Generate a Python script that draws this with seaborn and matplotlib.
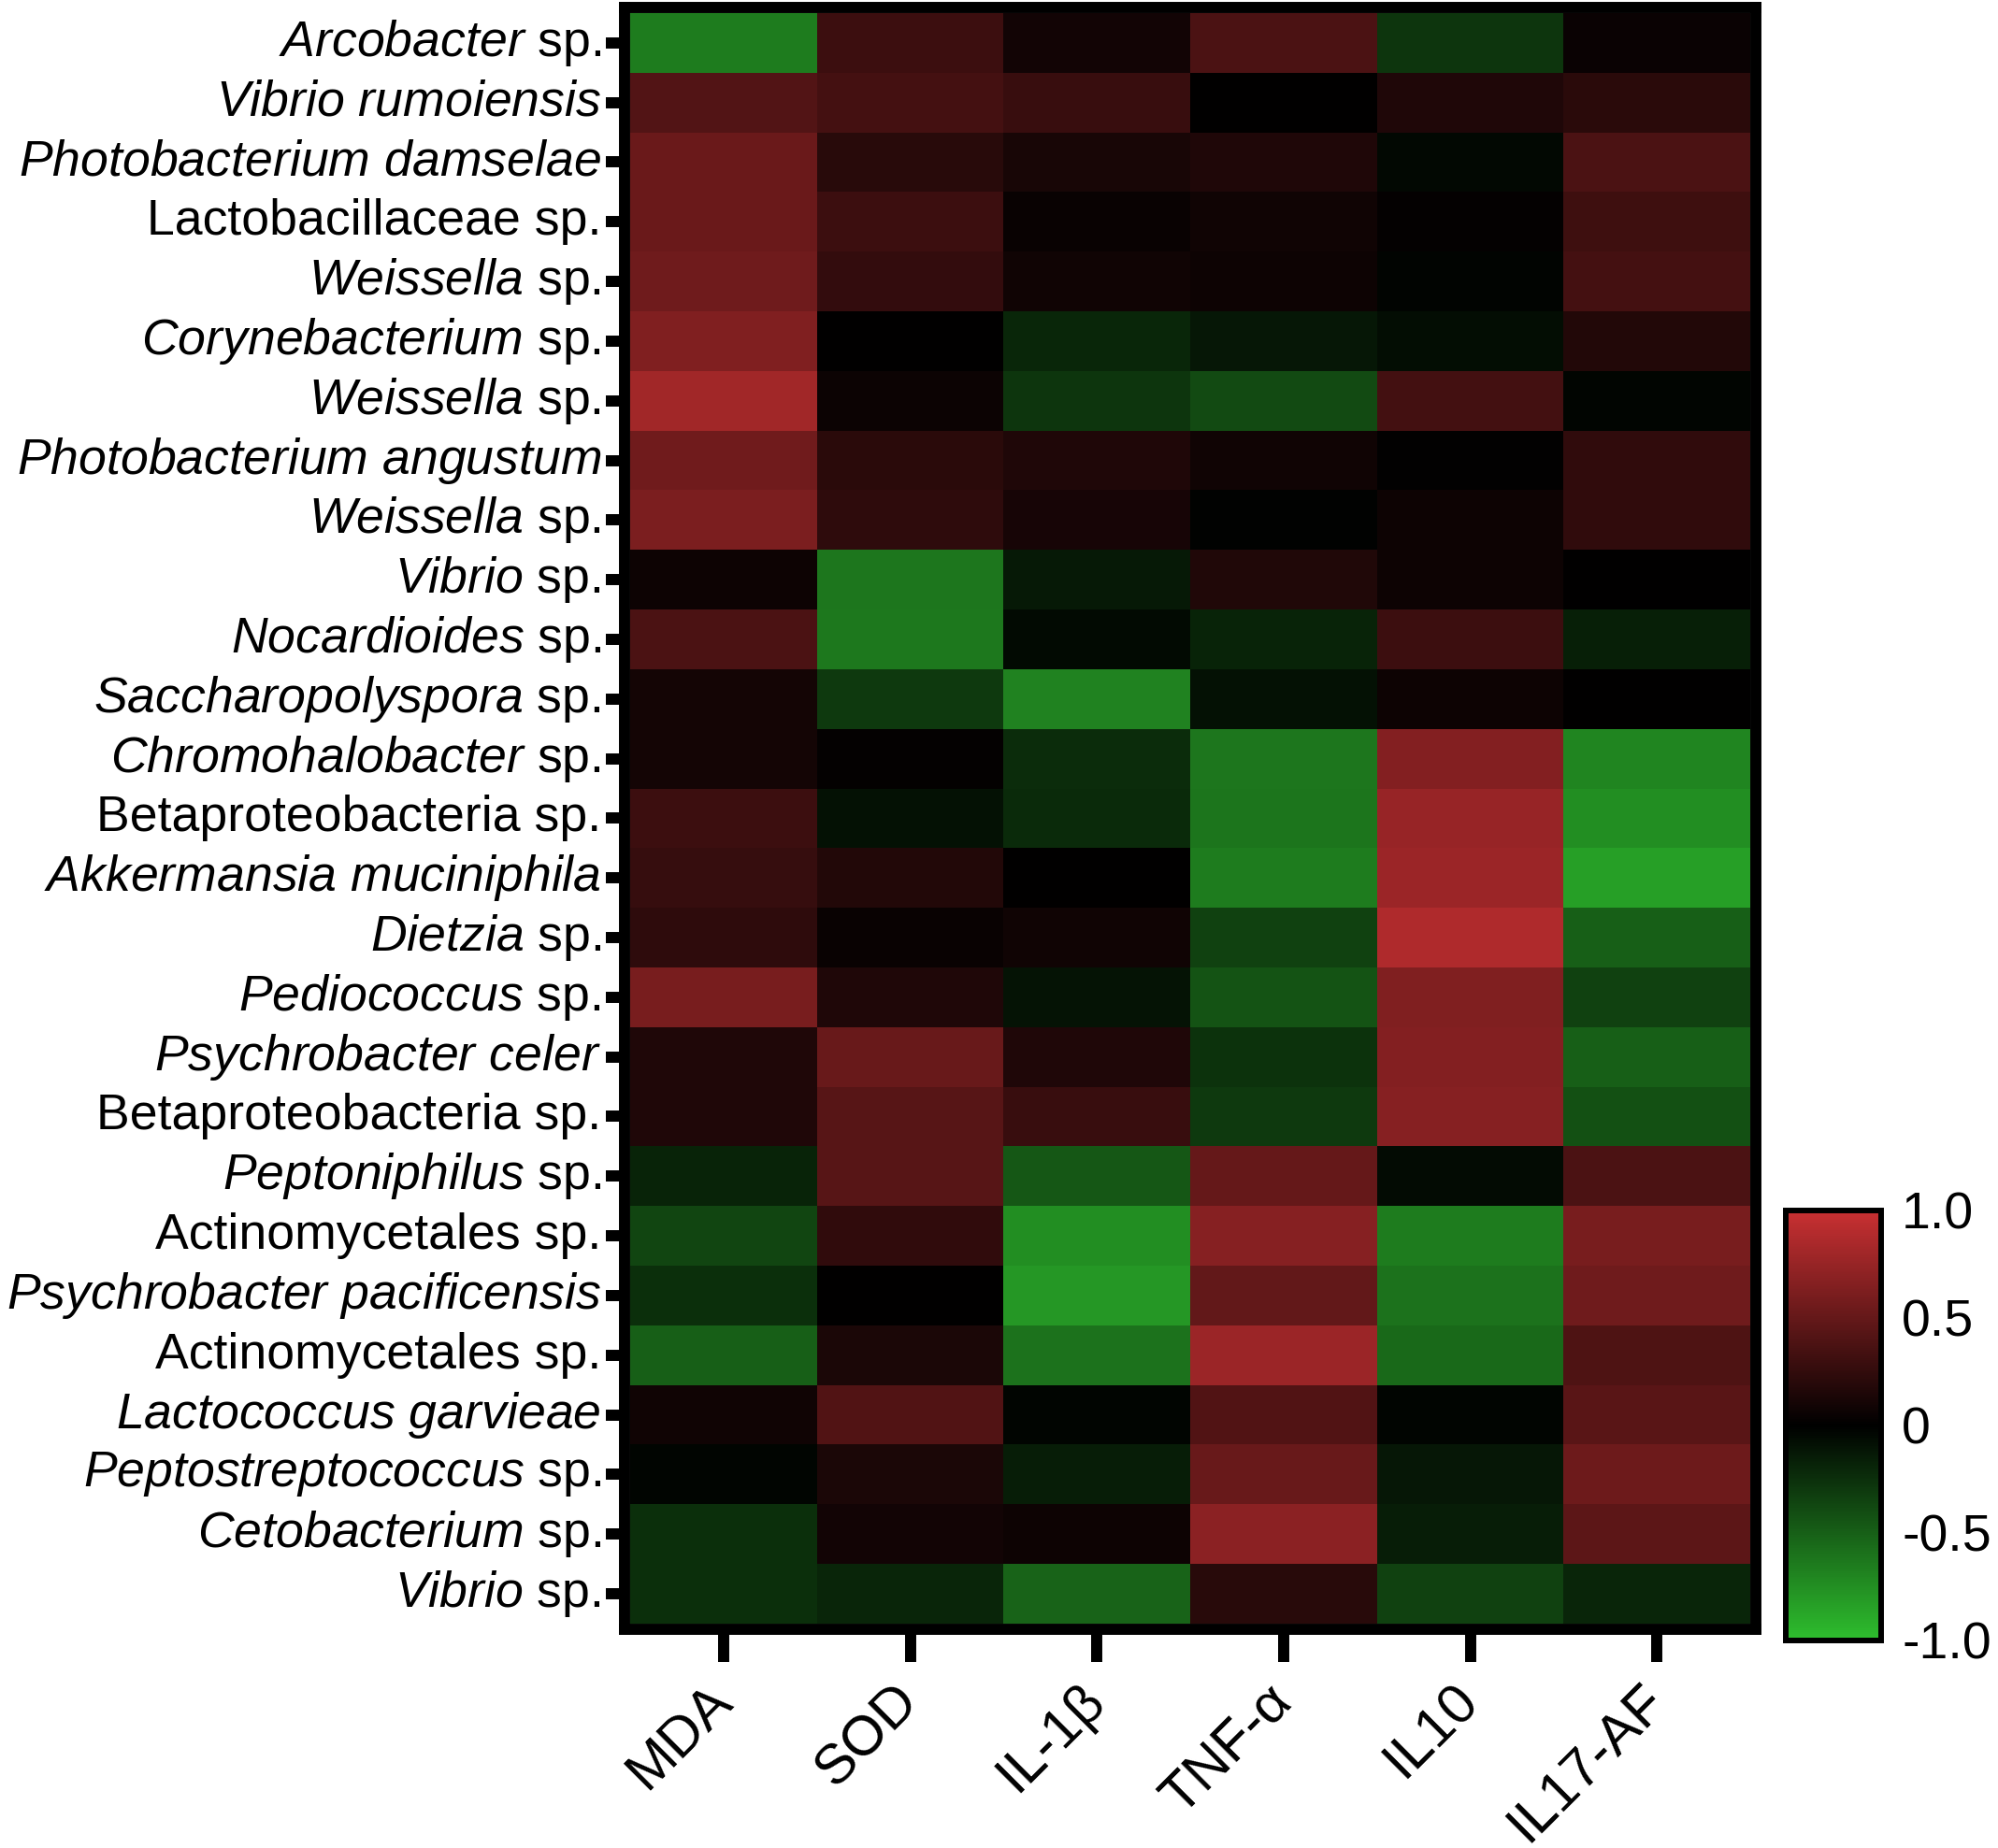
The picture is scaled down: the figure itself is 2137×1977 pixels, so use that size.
import numpy as np
import pandas as pd
import matplotlib as mpl
mpl.use("Agg")
import matplotlib.pyplot as plt
import seaborn as sns
from matplotlib.colors import LinearSegmentedColormap
from matplotlib.ticker import FixedLocator

# Colores
GREEN_END = '#2ebe2e'
RED_END = '#c83032'

# Datos
species = [
    r'$\mathit{Arcobacter}$ sp.',
    r'$\mathit{Vibrio\ rumoiensis}$',
    r'$\mathit{Photobacterium\ damselae}$',
    'Lactobacillaceae sp.',
    r'$\mathit{Weissella}$ sp.',
    r'$\mathit{Corynebacterium}$ sp.',
    r'$\mathit{Weissella}$ sp.',
    r'$\mathit{Photobacterium\ angustum}$',
    r'$\mathit{Weissella}$ sp.',
    r'$\mathit{Vibrio}$ sp.',
    r'$\mathit{Nocardioides}$ sp.',
    r'$\mathit{Saccharopolyspora}$ sp.',
    r'$\mathit{Chromohalobacter}$ sp.',
    'Betaproteobacteria sp.',
    r'$\mathit{Akkermansia\ muciniphila}$',
    r'$\mathit{Dietzia}$ sp.',
    r'$\mathit{Pediococcus}$ sp.',
    r'$\mathit{Psychrobacter\ celer}$',
    'Betaproteobacteria sp.',
    r'$\mathit{Peptoniphilus}$ sp.',
    'Actinomycetales sp.',
    r'$\mathit{Psychrobacter\ pacificensis}$',
    'Actinomycetales sp.',
    r'$\mathit{Lactococcus\ garvieae}$',
    r'$\mathit{Peptostreptococcus}$ sp.',
    r'$\mathit{Cetobacterium}$ sp.',
    r'$\mathit{Vibrio}$ sp.',
]
markers = ['MDA', 'SOD', 'IL-1β', 'TNF-α', 'IL10', 'IL17-AF']

mda = [-0.65, 0.41, 0.53, 0.53, 0.55, 0.64, 0.80, 0.56, 0.61, 0.07, 0.37, 0.10, 0.10, 0.30,
       0.27, 0.23, 0.60, 0.15, 0.15, -0.18, -0.36, -0.25, -0.50, 0.08, -0.03, -0.25, -0.25]
sod = [0.30, 0.34, 0.20, 0.30, 0.25, 0.00, 0.06, 0.21, 0.23, -0.62, -0.63, -0.30, 0.02, -0.09,
       0.17, 0.04, 0.15, 0.52, 0.43, 0.43, 0.24, 0.00, 0.14, 0.40, 0.14, 0.09, -0.19]
il1b = [0.09, 0.28, 0.12, 0.04, 0.08, -0.20, -0.28, 0.15, 0.11, -0.13, -0.05, -0.68, -0.23, -0.22,
        0.00, 0.08, -0.10, 0.15, 0.28, -0.46, -0.75, -0.79, -0.60, -0.03, -0.15, 0.07, -0.52]
tnfa = [0.37, 0.00, 0.15, 0.08, 0.07, -0.12, -0.39, 0.08, -0.01, 0.16, -0.18, -0.09, -0.62, -0.61,
        -0.65, -0.34, -0.43, -0.26, -0.30, 0.50, 0.67, 0.49, 0.77, 0.40, 0.52, 0.69, 0.20]
il10 = [-0.28, 0.15, -0.04, 0.02, -0.02, -0.07, 0.33, 0.01, 0.07, 0.07, 0.30, 0.07, 0.65, 0.75,
        0.77, 0.87, 0.64, 0.65, 0.67, -0.06, -0.65, -0.60, -0.55, -0.03, -0.12, -0.15, -0.34]
il17af = [0.05, 0.21, 0.37, 0.31, 0.34, 0.17, -0.03, 0.24, 0.24, 0.00, -0.16, 0.00, -0.70, -0.75,
          -0.83, -0.50, -0.34, -0.50, -0.42, 0.37, 0.60, 0.55, 0.39, 0.44, 0.54, 0.46, -0.19]

cbar_ticks = [-1.0, -0.5, 0.0, 0.5, 1.0]
cbar_labels = ['-1.0', '-0.5', '0', '0.5', '1.0']

df = pd.DataFrame(np.column_stack([mda, sod, il1b, tnfa, il10, il17af]), columns=markers)

sns.set_style("white")
plt.rcParams['font.family'] = ['Liberation Sans', 'DejaVu Sans']
plt.rcParams['mathtext.fontset'] = 'custom'
plt.rcParams['mathtext.rm'] = 'Liberation Sans'
plt.rcParams['mathtext.it'] = 'Liberation Sans:italic'

cmap = LinearSegmentedColormap.from_list('gkr', [GREEN_END, '#000000', RED_END])

fig = plt.figure(figsize=(21.37, 19.77), dpi=100)
ax = fig.add_axes([0.3126, 0.1184, 0.5662, 0.8776])
cax = fig.add_axes([0.8938, 0.1123, 0.0477, 0.2327])

sns.heatmap(df.values, cmap=cmap, vmin=-1, vmax=1, ax=ax, cbar_ax=cax,
            xticklabels=markers, yticklabels=species, linewidths=0)

# marco negro grueso
ax.set_xlim(-0.03, 6.03)
ax.set_ylim(27.094, -0.094)
for sp in ax.spines.values():
    sp.set_visible(True)
    sp.set_linewidth(8.6)
    sp.set_color('black')

ax.tick_params(axis='y', direction='out', length=14.4, width=8.6, pad=3.6,
               labelsize=38.6, left=True, colors='black')
ax.tick_params(axis='x', direction='out', length=25, width=8.6, pad=24,
               labelsize=43, bottom=True, colors='black')
ax.set_yticklabels(species, rotation=0)
ax.set_xticklabels(markers, rotation=45, ha='right', va='center',
                   rotation_mode='anchor')

# barra de color
cbar = ax.collections[0].colorbar
cbar.outline.set_linewidth(4.3)
cbar.outline.set_edgecolor('black')
cax.yaxis.set_major_locator(FixedLocator(cbar_ticks))
cax.set_yticklabels(cbar_labels)
cax.yaxis.set_minor_locator(FixedLocator([-0.5, 0.5]))
cax.tick_params(which='major', length=0, pad=16, labelsize=40, colors='black')
cax.tick_params(which='minor', direction='in', length=11, width=4.3,
                left=True, right=True, color='black')

fig.savefig('out.png', dpi=100, facecolor='white')
